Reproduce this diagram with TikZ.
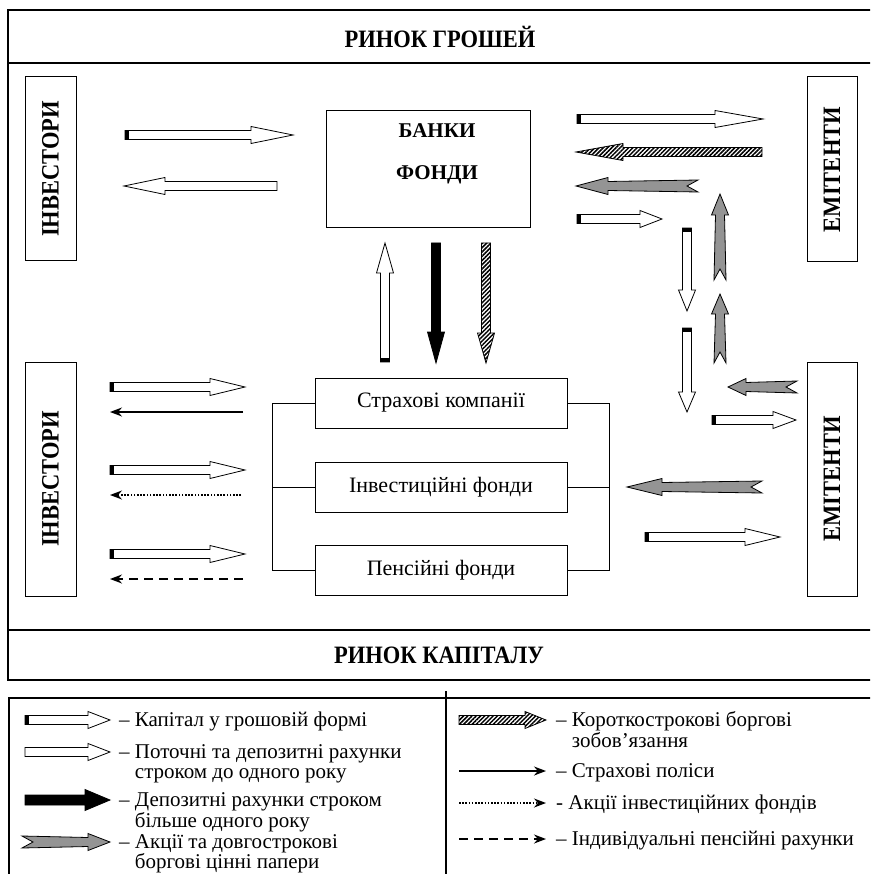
\documentclass[tikz,border=0pt]{standalone}
\usepackage{fontspec}
\setmainfont{Liberation Serif}[BoldFont={Liberation Serif Bold}]
\newfontfamily\headfont{Liberation Serif}[FakeStretch=0.9, BoldFont={Liberation Serif Bold}]
\usetikzlibrary{patterns.meta,arrows.meta}
\tikzset{
  sw/.store in=\BAsw, hw/.store in=\BAhw, capw/.store in=\BAcapw, ntch/.store in=\BAntch,
  sw=4.5, hw=8.5, capw=0, ntch=0,
  bstyle/.style={fill=white},
  barr/.style={draw=black, line width=0.8pt},
  whitecap/.style={capw=4},
  grayarr/.style={ntch=11, bstyle/.style={fill=black!42}},
  blackarr/.style={bstyle/.style={fill=black}},
  hatcharr/.style={bstyle/.style={pattern={Lines[angle=45,distance=3pt,line width=1.5pt]}}},
  frameline/.style={line width=2.8pt},
  thinbox/.style={draw=black, line width=1pt, inner sep=0pt},
  headtxt/.style={font=\headfont\bfseries\fontsize{25}{25}\selectfont},
  inst/.style={thinbox, minimum width=252pt, minimum height=50pt, font=\fontsize{22}{22}\selectfont},
  legtext/.style={font=\fontsize{21}{19.5}\selectfont, anchor=base west, inner sep=0pt},
  linearr/.style={-{Stealth[length=12pt,width=9pt]}, line width=1.5pt},
  dotarr/.style={linearr, dash pattern=on 1.6pt off 1.6pt},
  dasharr/.style={linearr, dash pattern=on 9pt off 6pt},
  bracket/.style={line width=1pt},
}
\newcommand{\legtwo}[2]{\begin{tabular}[t]{@{}l@{}}#1\\\hphantom{– }#2\end{tabular}}
\newcommand{\BA}[6][]{%
  \begin{scope}[shift={(#2,#3)},rotate=#4,#1]
    \pgfmathsetmacro\BAhb{#5-(#6)}%
    \pgfmathsetmacro\BAfl{\BAntch>0?1.5:0}%
    \path[barr,bstyle] (0,{-\BAsw-\BAfl}) -- (\BAhb,-\BAsw) -- (\BAhb,-\BAhw) -- (#5,0) -- (\BAhb,\BAhw) -- (\BAhb,\BAsw) -- (0,{\BAsw+\BAfl}) -- (\BAntch,0) -- cycle;
    \ifdim\BAcapw pt>0pt \fill[black] (0,-\BAsw) rectangle (\BAcapw,\BAsw);\fi
  \end{scope}}
\begin{document}
\begin{tikzpicture}[x=1pt,y=-1pt]
\useasboundingbox (0,0) rectangle (870,874);
\begin{scope}
\clip (0,0) rectangle (870,874);
\fill[white] (0,0) rectangle (870,874);
% frame
\draw[frameline] (8,10) rectangle (900,680);
\draw[frameline] (8,63) -- (900,63);
\draw[frameline] (8,630) -- (900,630);
\node[headtxt] (rg) at (440,37) {РИНОК ГРОШЕЙ};
\node[headtxt] (rk) at (439,655) {РИНОК КАПІТАЛУ};
% side boxes
\node[thinbox, rotate=90, minimum width=184pt, minimum height=51pt, headtxt] (inv1) at (50.5,169) {ІНВЕСТОРИ};
\node[thinbox, rotate=90, minimum width=234pt, minimum height=51pt, headtxt] (inv2) at (50.5,479) {ІНВЕСТОРИ};
\node[thinbox, rotate=90, minimum width=185pt, minimum height=50pt, headtxt] (em1) at (832,169.5) {ЕМІТЕНТИ};
\node[thinbox, rotate=90, minimum width=234pt, minimum height=50pt, headtxt] (em2) at (832,479) {ЕМІТЕНТИ};
% banks
\node[thinbox, minimum width=204pt, minimum height=117pt] (bank) at (428,169.5) {};
\node[font=\bfseries\fontsize{21}{42}\selectfont, align=center] (banktxt) at (437,154) {БАНКИ\\ФОНДИ};
% institutions
\node[inst] (sk) at (441,403) {Страхові компанії};
\node[inst] (if) at (441,487) {Інвестиційні фонди};
\node[inst] (pf) at (441,570) {Пенсійні фонди};
\draw[bracket] (sk.west) -- ++(-42,0) |- (pf.west);
\draw[bracket] (if.west) -- ++(-42,0);
\draw[bracket] (sk.east) -- ++(42,0) |- (pf.east);
\draw[bracket] (if.east) -- ++(42,0);
% block arrows
\BA[whitecap]{125}{135}{0}{168}{42}
\BA{277}{186}{180}{153}{41}
\BA[whitecap]{385}{362}{90}{119}{30}
\BA[blackarr]{436}{243}{-90}{120}{31}
\BA[hatcharr]{486}{243}{-90}{120}{30}
\BA[whitecap]{577}{119}{0}{186}{48}
\BA[hatcharr]{762}{152}{180}{186}{47}
\BA[grayarr]{698}{186}{180}{122}{32}
\BA[whitecap]{577}{219}{0}{85}{22}
\BA[whitecap]{687}{228}{-90}{83}{21}
\BA[grayarr]{720}{280}{90}{86}{21}
\BA[grayarr]{720}{363}{90}{69}{20}
\BA[whitecap]{687}{328}{-90}{84}{20}
\BA[grayarr]{797}{387}{180}{69}{18}
\BA[whitecap]{712}{420}{0}{84}{23}
\BA[grayarr]{762}{487}{180}{135}{35}
\BA[whitecap]{645}{537}{0}{135}{35}
\BA[whitecap]{110}{387}{0}{135}{35}
\BA[whitecap]{110}{470}{0}{135}{35}
\BA[whitecap]{110}{554}{0}{135}{35}
% line arrows
\coordinate (p1s) at (243,412); \coordinate (p1e) at (110,412);
\coordinate (p2s) at (241,495); \coordinate (p2e) at (110,495);
\coordinate (p3s) at (243,579); \coordinate (p3e) at (110,579);
\draw[linearr] (p1s) -- (p1e);
\draw[dotarr] (p2s) -- (p2e);
\draw[dasharr] (p3s) -- (p3e);
% legend
\draw[line width=1.6pt] (9,698) rectangle (900,900);
\draw[line width=2pt] (446,691) -- (446,880);
\BA[whitecap]{25}{720}{0}{85}{22}
\BA{25}{752}{0}{85}{22}
\BA[blackarr,sw=5,hw=10.5]{25}{800}{0}{85}{25}
\BA[grayarr]{22}{842}{0}{88}{22}
\node[legtext] (t1) at (119,726.5) {– Капітал у грошовій формі};
\node[legtext] (t2) at (119,758.5) {\legtwo{– Поточні та депозитні рахунки}{строком до одного року}};
\node[legtext] (t3) at (119,806.5) {\legtwo{– Депозитні рахунки строком}{більше одного року}};
\node[legtext] (t4) at (119,848) {\legtwo{– Акції та довгострокові}{боргові цінні папери}};
\BA[hatcharr]{459}{720}{0}{87}{21}
\coordinate (q1s) at (459,771); \coordinate (q1e) at (546,771);
\coordinate (q2s) at (459,803); \coordinate (q2e) at (546,803);
\coordinate (q3s) at (459,839); \coordinate (q3e) at (546,839);
\draw[linearr] (q1s) -- (q1e);
\draw[dotarr] (q2s) -- (q2e);
\draw[dasharr] (q3s) -- (q3e);
\node[legtext] (u1) at (556,726.5) {\legtwo{– Короткострокові боргові}{зобов’язання}};
\node[legtext] (u2) at (556,777.5) {– Страхові поліси};
\node[legtext] (u3) at (556,809.5) {- Акції інвестиційних фондів};
\node[legtext] (u4) at (556,845.5) {– Індивідуальні пенсійні рахунки};
\end{scope}
\end{tikzpicture}
\end{document}
